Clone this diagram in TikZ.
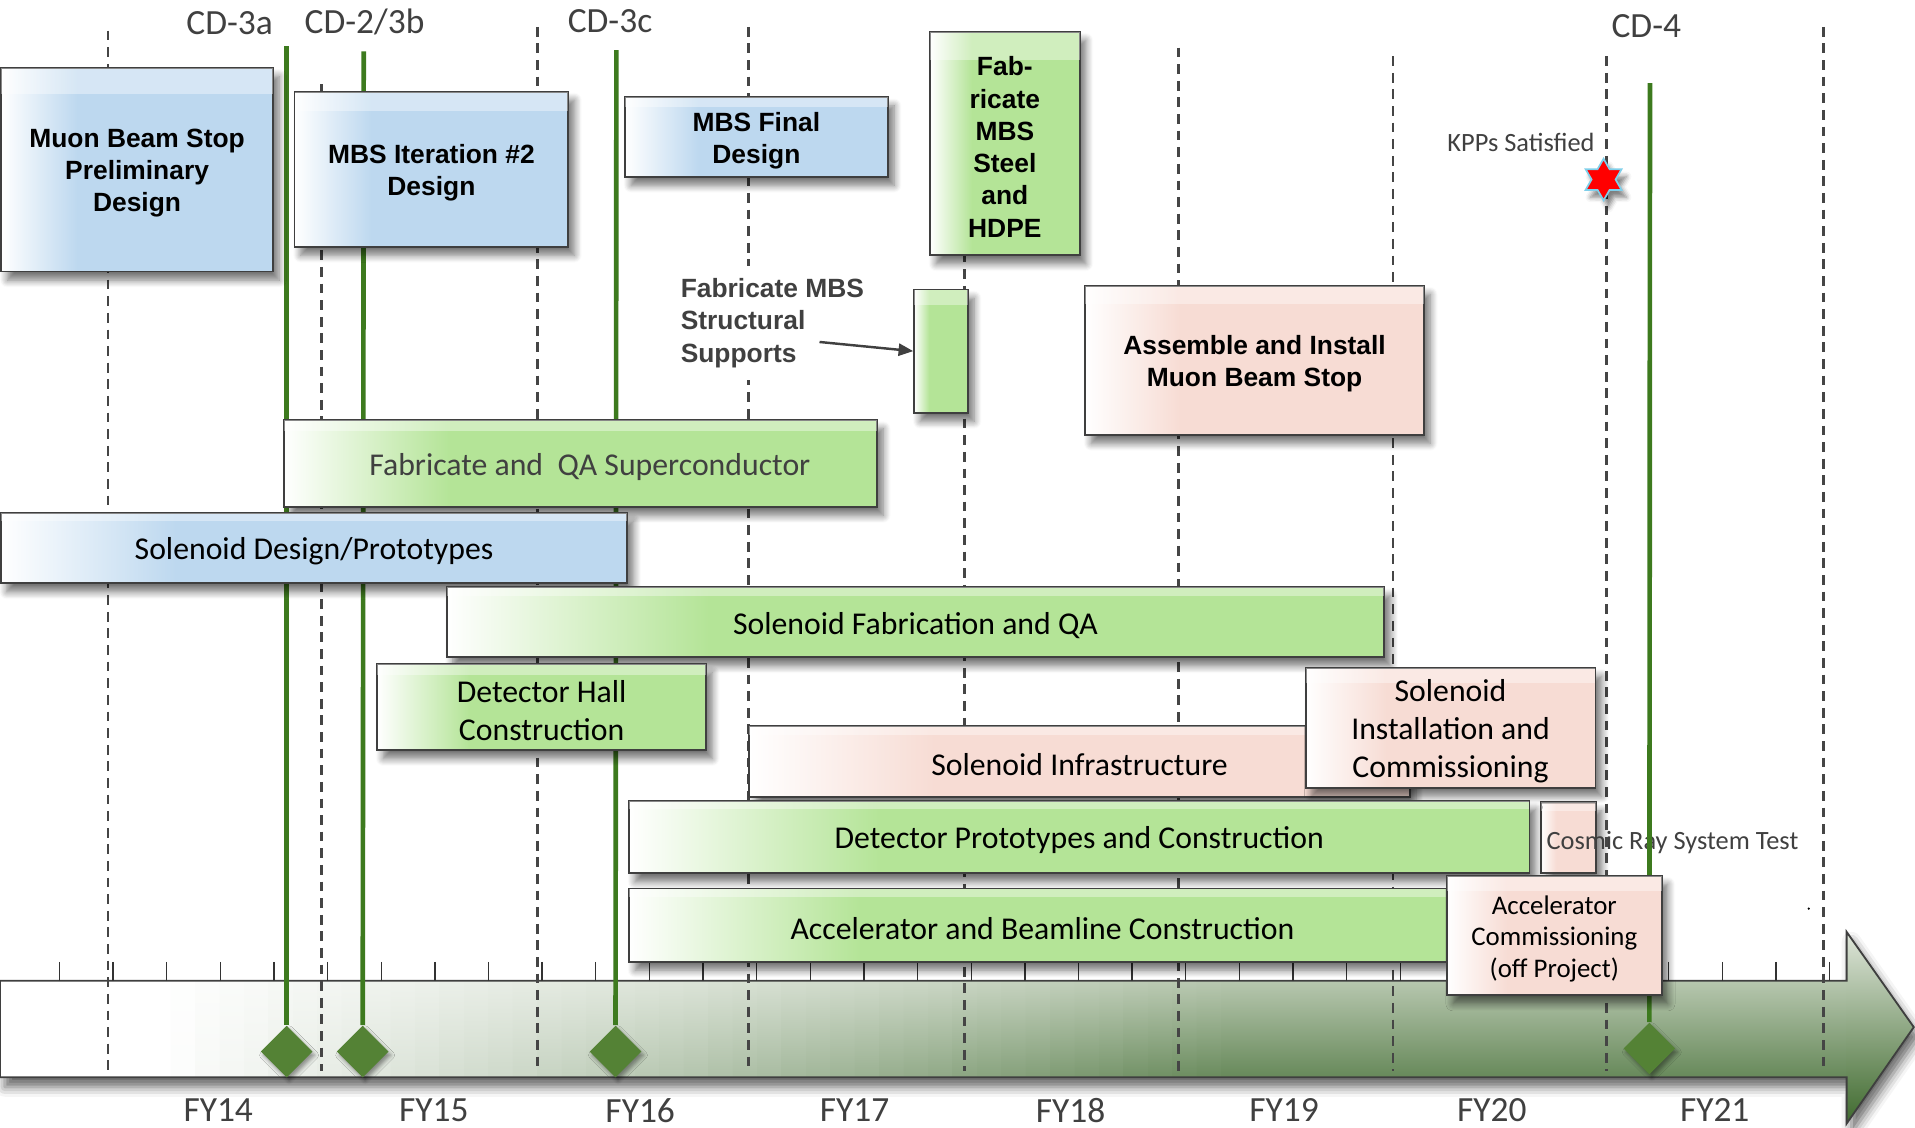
\documentclass[tikz,border=0pt]{standalone}
\usepackage{fontspec}
\setmainfont{Carlito}
\newfontfamily\arialfont{Liberation Sans}
\usetikzlibrary{shapes.geometric,arrows.meta,shadows.blur,calc}
\definecolor{boxline}{HTML}{3F3F3F}
\definecolor{bfill}{HTML}{BDD8EF}
\definecolor{gfill}{HTML}{B4E497}
\definecolor{pfill}{HTML}{F7DCD4}
\definecolor{msgreen}{HTML}{3D7A1E}
\definecolor{dmgreen}{HTML}{548235}
\definecolor{txtgrey}{HTML}{404040}
\definecolor{dashgrey}{HTML}{454545}
\definecolor{tlbodytop}{HTML}{B7C7AF}
\definecolor{tlbodybot}{HTML}{67895A}
\definecolor{tlheadtop}{HTML}{DFE6DA}
\definecolor{tlheadbot}{HTML}{3F6A2E}
\definecolor{starline}{HTML}{7FCFEA}
\pgfdeclarehorizontalshading{blueshade}{100bp}{color(0bp)=(white); color(25bp)=(white); color(39bp)=(bfill); color(100bp)=(bfill)}
\pgfdeclarehorizontalshading{greenshade}{100bp}{color(0bp)=(white); color(25bp)=(white); color(39bp)=(gfill); color(100bp)=(gfill)}
\pgfdeclarehorizontalshading{pinkshade}{100bp}{color(0bp)=(white); color(25bp)=(white); color(39bp)=(pfill); color(100bp)=(pfill)}
\tikzset{
  boxshadow/.style={blur shadow={shadow xshift=2.5pt, shadow yshift=-3.5pt, shadow blur radius=3pt, shadow blur steps=8, shadow opacity=55}},
  taskbox/.style={draw=boxline, line width=0.75pt, inner sep=0pt, boxshadow},
  bluebox/.style={taskbox, shade, shading=blueshade},
  greenbox/.style={taskbox, shade, shading=greenshade},
  pinkbox/.style={taskbox, shade, shading=pinkshade},
  glossband/.style={fill=white, fill opacity=0.38},
  boxtext/.style={inner sep=0pt, align=center},
  boldtxt/.style={boxtext, font=\arialfont\bfseries\fontsize{10.8}{13.2}\selectfont},
  bartxt/.style={boxtext, font=\fontsize{13}{15.5}\selectfont},
  commtxt/.style={boxtext, font=\fontsize{11}{13}\selectfont},
  smalltxt/.style={font=\fontsize{10.8}{13}\selectfont, text=txtgrey, inner sep=0pt},
  cdlabel/.style={font=\fontsize{14.5}{17}\selectfont, text=txtgrey, inner sep=0pt},
  fylabel/.style={font=\fontsize{14.5}{17}\selectfont, text=txtgrey, inner sep=0pt},
  yearline/.style={dashgrey, line width=1.1pt, dash pattern=on 4pt off 2.8pt},
  msline/.style={msgreen, line width=1.9pt},
  msdiamond/.style={diamond, fill=dmgreen, minimum width=21.3pt, minimum height=21.3pt, inner sep=0pt, blur shadow={shadow xshift=1pt, shadow yshift=-1.5pt, shadow blur radius=1.5pt, shadow opacity=40}},
  tickmark/.style={black!80, line width=0.55pt},
  pointer/.style={txtgrey, line width=1pt, -{Triangle[length=6pt,width=5pt]}},
}
% light band along the top of a box
\newcommand{\mygloss}[1]{%
  \fill[glossband] ([xshift=0.4pt,yshift=-0.4pt]#1.north west) rectangle ($([xshift=-0.4pt]#1.north east)!0.13!([xshift=-0.4pt]#1.south east)$);
}
% #1 box style, #2 text style, #3 name, #4 centre, #5 width, #6 height, #7 text
\newcommand{\mytask}[7]{%
  \node[#1, minimum width=#5, minimum height=#6] (#3) at #4 {};
  \mygloss{#3}
  \node[#2] (#3-t) at ([yshift=-1.4pt]#3.center) {#7};
}
\begin{document}
\begin{tikzpicture}[x=0.5pt,y=-0.5pt]
\useasboundingbox (0,0) rectangle (1568,923);
% ---------- timeline arrow ----------
\fill[white, blur shadow={shadow xshift=2pt, shadow yshift=-4pt, shadow blur radius=4pt, shadow opacity=60}]
  (0,803) -- (1512,803) -- (1512,763) -- (1567,841) -- (1512,920) -- (1512,882) -- (0,882) -- cycle;
\foreach \i in {0,...,75}{
  \pgfmathsetmacro\xa{20*\i}
  \pgfmathsetmacro\xb{min(20*\i+21,1512)}
  \pgfmathtruncatemacro\p{max(0,min(100,(20*\i+10-125)/8.75))}
  \shade[top color=tlbodytop!\p!white, bottom color=tlbodybot!\p!white] (\xa,803) rectangle (\xb,882);
}
\shade[top color=tlheadtop, bottom color=tlheadbot] (1512,763) -- (1567,841) -- (1512,920) -- cycle;
\draw[boxline, line width=0.75pt]
  (0,803) -- (1512,803) -- (1512,763) -- (1567,841) -- (1512,920) -- (1512,882) -- (0,882) -- cycle;
\foreach \i in {0,...,33}{
  \draw[tickmark] ({48.6+43.92*\i},787.5) -- ({48.6+43.92*\i},803);
}
% ---------- cosmic ray test (behind grid lines) ----------
\node[pinkbox, minimum width=22.5pt, minimum height=28.8pt] (cosmic) at (1284,685.8) {};
\mygloss{cosmic}
\node[smalltxt, anchor=west] (cosmictxt) at (1266,690) {Cosmic Ray System Test};
% ---------- year grid lines ----------
\foreach \x/\y in {88.5/25, 263/69, 440/22, 613/22, 790/30, 965/39, 1140.5/46, 1315.5/46, 1493/22}{
  \draw[yearline] (\x,\y) -- (\x,877);
}
% ---------- supports label (covers the grid line) ----------
\node[boldtxt, text=txtgrey, align=left, anchor=west, fill=white, inner xsep=3pt, inner ysep=5pt] (suplbl) at (551,264.5) {Fabricate MBS\\Structural\\Supports};
% ---------- milestones ----------
\coordinate (ms1top) at (234.7,38);
\coordinate (ms2top) at (297.8,42);
\coordinate (ms3top) at (504.7,41);
\coordinate (ms4top) at (1351,68);
\node[msdiamond] (ms1) at (234.7,861) {};
\node[msdiamond] (ms2) at (297,861) {};
\node[msdiamond] (ms3) at (504,861) {};
\node[msdiamond] (ms4) at (1350.5,858.5) {};
\draw[msline] (ms1.north) -- (ms1top);
\draw[msline] (ms2.north) -- (ms2top);
\draw[msline] (ms3.north) -- (ms3top);
\draw[msline] (ms4.north) -- (ms4top);
% ---------- task boxes ----------
\mytask{bluebox}{boldtxt}{prelim}{(112.25,138.9)}{111.25pt}{83.4pt}{Muon Beam Stop\\Preliminary\\Design}
\mytask{bluebox}{boldtxt}{iter2}{(353.25,138.5)}{112.05pt}{63.5pt}{MBS Iteration \#2\\Design}
\mytask{bluebox}{boldtxt}{final}{(619.35,112.2)}{107.65pt}{32.5pt}{MBS Final\\Design}
\mytask{greenbox}{boldtxt}{fabsteel}{(822.75,117.5)}{61.25pt}{91.5pt}{Fab-\\ricate\\MBS\\Steel\\and\\HDPE}
\node[greenbox, minimum width=22pt, minimum height=50.5pt] (supports) at (770.5,287.5) {};
\mygloss{supports}
\mytask{pinkbox}{boldtxt}{assemble}{(1027.25,295)}{138.75pt}{61pt}{Assemble and Install\\Muon Beam Stop}
\mytask{greenbox}{bartxt, text=txtgrey}{superc}{(475.45,379.5)}{242.75pt}{35.5pt}{\hspace*{7.5pt}Fabricate and\ \ QA Superconductor}
\mytask{bluebox}{bartxt}{soldesign}{(257.1,448.7)}{256.6pt}{28.9pt}{Solenoid Design/Prototypes}
\mytask{greenbox}{bartxt}{solfab}{(749.6,509.45)}{383.9pt}{28.75pt}{Solenoid Fabrication and QA}
\mytask{greenbox}{bartxt}{dethall}{(443.5,578.9)}{134.7pt}{35.2pt}{Detector Hall\\Construction}
\mytask{pinkbox}{bartxt}{solinfra}{(883.95,623.6)}{270.55pt}{29.2pt}{Solenoid Infrastructure}
\mytask{pinkbox}{bartxt}{solinst}{(1187.7,595.85)}{118.7pt}{49.15pt}{Solenoid\\Installation and\\Commissioning}
\mytask{greenbox}{bartxt}{detproto}{(883.65,685.35)}{368.65pt}{29.75pt}{Detector Prototypes and Construction}
\mytask{greenbox}{bartxt}{accbeam}{(853.5,757.45)}{338.5pt}{29.95pt}{Accelerator and Beamline Construction}
\mytask{pinkbox}{commtxt}{acccomm}{(1272.65,765.85)}{87.85pt}{48.85pt}{Accelerator\\Commissioning\\(off Project)}
% ---------- KPP star ----------
\node[star, star points=6, star point ratio=1.73, fill=red, draw=starline, line width=0.7pt, minimum size=17pt, inner sep=0pt,
  blur shadow={shadow xshift=2pt, shadow yshift=-3pt, shadow blur radius=2pt, shadow opacity=50}] (kpp) at (1313,147) {};
\node[smalltxt, anchor=east] (kpptxt) at (1306,117) {KPPs Satisfied};
\fill[black] (1481,744) circle (0.5pt);
% ---------- supports pointer ----------
\coordinate (suptail) at (671,280);
\draw[pointer] (suptail) -- (supports.west);
% ---------- CD labels ----------
\node[cdlabel] (cd3a) at (188,19) {CD-3a};
\node[cdlabel] (cd2) at (298.5,18) {CD-2/3b};
\node[cdlabel] (cd3c) at (499.5,17) {CD-3c};
\node[cdlabel] (cd4) at (1348,21) {CD-4};
% ---------- FY labels ----------
\node[fylabel] (fy14) at (178.7,909) {FY14};
\node[fylabel] (fy15) at (355.3,909) {FY15};
\node[fylabel] (fy16) at (524.2,909) {FY16};
\node[fylabel] (fy17) at (699.8,909) {FY17};
\node[fylabel] (fy18) at (876.6,909) {FY18};
\node[fylabel] (fy19) at (1051.4,909) {FY19};
\node[fylabel] (fy20) at (1221.5,909) {FY20};
\node[fylabel] (fy21) at (1404,909) {FY21};
\end{tikzpicture}
\end{document}
